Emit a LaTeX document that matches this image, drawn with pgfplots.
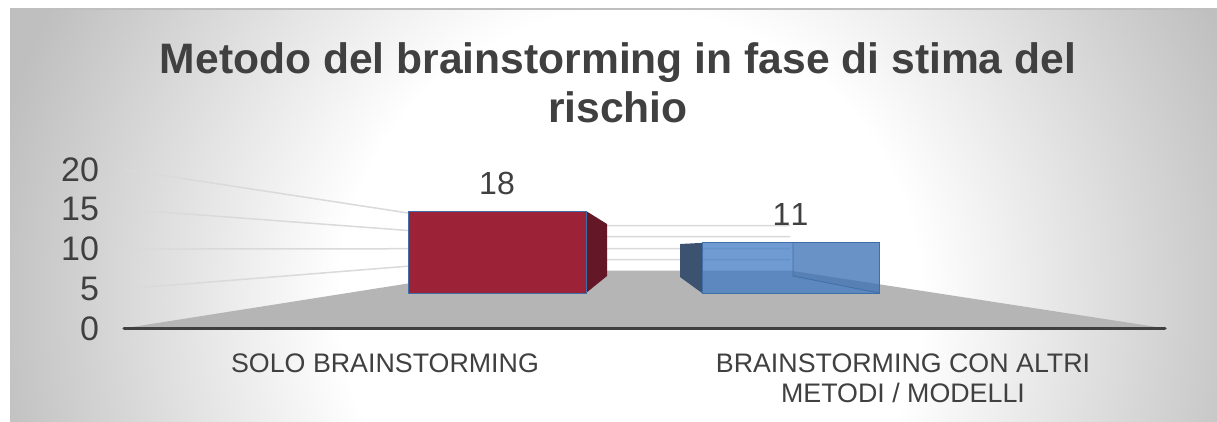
\documentclass[border=0pt]{standalone}
\usepackage{fontspec}
\setmainfont{Liberation Sans}
\usepackage{pgfplots}
\pgfplotsset{compat=1.18}
\definecolor{txt}{HTML}{404040}
\definecolor{gridc}{HTML}{DADADA}
\definecolor{floorc}{HTML}{B5B5B5}
\definecolor{redf}{HTML}{9C2337}
\definecolor{reds}{HTML}{641726}
\definecolor{bluef}{HTML}{3F7AC3}
\definecolor{blues}{HTML}{3B5370}
\definecolor{edgec}{HTML}{3F6FA8}
\definecolor{bgouter}{HTML}{BFBFBF}
\pgfdeclareradialshading{chartbg}{\pgfpoint{0bp}{0bp}}{%
  color(0bp)=(white); color(10.36bp)=(white); color(23.2bp)=(bgouter); color(50bp)=(bgouter)}
\begin{document}
\begin{tikzpicture}[x=0.5pt,y=0.5pt]
\useasboundingbox (0,0) rectangle (1217,422);
\begin{scope}
  \clip (10,0) rectangle (1217,413);
  \shade[shading=chartbg] (630,122) circle (700);
\end{scope}
\draw[color=black!25,line width=0.75pt] (10,413) -- (1217,413);
\node[font=\bfseries\fontsize{21.3}{24.7}\selectfont,text=txt,align=center,anchor=center] at (618,339.5)
  {Metodo del brainstorming in fase di stima del\\rischio};
% main value axis: walls, floor, value ticks, category labels
\begin{axis}[
  at={(61pt,46.7pt)},anchor=south west,scale only axis,
  width=522.5pt,height=79.5pt,
  xmin=122,xmax=1167,ymin=0,ymax=20,clip=false,
  axis line style={draw=none},tick style={draw=none},
  ytick={0,5,10,15,20},
  /pgf/number format/assume math mode=true,
  yticklabel style={font=\fontsize{17}{18}\selectfont\addfontfeature{Kerning=Off},text=txt,xshift=-8pt},
  xtick={385,903},
  xticklabels={SOLO BRAINSTORMING,{BRAINSTORMING CON ALTRI\\METODI / MODELLI}},
  xticklabel style={font=\fontsize{13.4}{15}\selectfont,text=txt,align=center,anchor=north,yshift=-9pt},
]
\addplot[draw=none,fill=floorc] coordinates {(122,0) (490,7.30) (790,7.30) (1167,0)} -- cycle;
\addplot[gridc,line width=0.75pt] coordinates {(125,20) (490,12.96) (790,12.96)};
\addplot[gridc,line width=0.75pt] coordinates {(125,15) (490,11.57) (790,11.57)};
\addplot[gridc,line width=0.75pt] coordinates {(125,10) (490,10.06) (790,10.06)};
\addplot[gridc,line width=0.75pt] coordinates {(125,5) (490,8.68) (790,8.68)};
\addplot[txt,line width=1.5pt,line cap=round] coordinates {(124,0) (1165,0)};
\end{axis}
% bars on their own scale, in the plane of their front faces
\begin{axis}[
  at={(61pt,47pt)},anchor=south west,scale only axis,
  width=522.5pt,height=79.5pt,
  xmin=122,xmax=1167,ymin=-7.682,ymax=27.217,clip=false,hide axis,
  /pgf/number format/assume math mode=true,
  nodes near coords,
  nodes near coords style={font=\fontsize{16}{18}\selectfont\addfontfeature{Kerning=Off},text=txt,text opacity=1,fill opacity=1,anchor=center,yshift=14pt},
]
\addplot[draw=none,fill=reds,nodes near coords={}] coordinates {(586,18) (607,15.14) (607,3.73) (586,0)} -- cycle;
\addplot[ybar,bar width=89pt,bar shift=0pt,fill=redf,draw=edgec,line width=0.45pt] coordinates {(497,18)};
\addplot[draw=none,fill=blues,nodes near coords={}] coordinates {(702,11) (680,10.75) (680,3.51) (702,0)} -- cycle;
\addplot[ybar,bar width=88.5pt,bar shift=0pt,fill=bluef,fill opacity=0.75,draw=edgec,line width=0.45pt] coordinates {(790.5,11)};
\addplot[draw=none,fill=black,fill opacity=0.05,nodes near coords={}] coordinates {(793,11) (879,11) (879,0) (793,3.73)} -- cycle;
\addplot[edgec,line width=0.4pt,nodes near coords={}] coordinates {(793,11) (793,3.73) (879,0)};
\end{axis}
\end{tikzpicture}
\end{document}
